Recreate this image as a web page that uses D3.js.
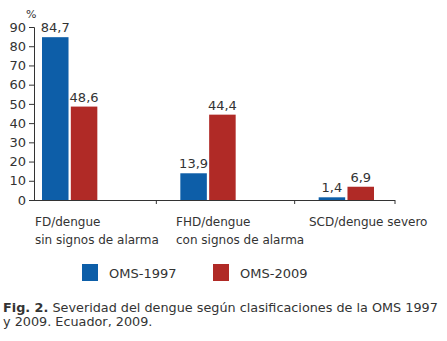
<!DOCTYPE html>
<html>
<head>
<meta charset="utf-8">
<script src="https://cdn.jsdelivr.net/npm/d3@7"></script>
<style>
  body { margin: 0; background: #fff; }
  svg { display: block; font-family: "DejaVu Sans", Verdana, sans-serif; }
  text { fill: #333; }
</style>
</head>
<body>
<div id="chart"></div>
<script>
const width = 447, height = 341;

// data
const categories = ["FD", "FHD", "SCD"];
const categoryLines = [
  ["FD/dengue", "sin signos de alarma"],
  ["FHD/dengue", "con signos de alarma"],
  ["SCD/dengue severo"]
];
const seriesNames = ["OMS-1997", "OMS-2009"];
const oms1997 = [84.7, 13.9, 1.4];
const oms2009 = [48.6, 44.4, 6.9];
const yTicks = [0, 10, 20, 30, 40, 50, 60, 70, 80, 90];
const colors = ["#0d5ea8", "#b02a26"];

const fmt = v => d3.format(".1f")(v).replace(".", ",");

const svg = d3.select("#chart").append("svg")
  .attr("width", width)
  .attr("height", height);

const axisLeft = 34, axisRight = 395, y0 = 200, y90 = 27;

const y = d3.scaleLinear().domain([0, 90]).range([y0, y90]);

const x = d3.scaleBand()
  .domain(categories)
  .range([42, 374])
  .paddingInner(0.6)
  .paddingOuter(0);

const xs = d3.scaleBand()
  .domain(seriesNames)
  .range([0, x.bandwidth()])
  .paddingInner(0.08);

const rows = categories.map((c, i) => ({ cat: c, values: [oms1997[i], oms2009[i]] }));

// y axis
const yAxis = svg.append("g")
  .attr("transform", `translate(${axisLeft},0)`)
  .call(d3.axisLeft(y).tickValues(yTicks).tickSize(5).tickPadding(3));
yAxis.select(".domain").attr("stroke", "#333");
yAxis.selectAll(".tick line").attr("stroke", "#333");
yAxis.selectAll(".tick text")
  .style("font-size", "13px")
  .style("font-family", "'DejaVu Sans', Verdana, sans-serif")
  .attr("fill", "#333");

svg.append("text")
  .attr("x", 26)
  .attr("y", 18)
  .style("font-size", "11px")
  .text("%");

// bars
const groups = svg.selectAll("g.grp")
  .data(rows)
  .join("g")
  .attr("class", "grp")
  .attr("transform", d => `translate(${x(d.cat)},0)`);

groups.selectAll("rect")
  .data(d => d.values.map((v, j) => ({ v, s: seriesNames[j], j })))
  .join("rect")
  .attr("x", d => xs(d.s))
  .attr("width", xs.bandwidth())
  .attr("y", d => y(d.v))
  .attr("height", d => y0 - y(d.v))
  .attr("fill", d => colors[d.j]);

groups.selectAll("text.val")
  .data(d => d.values.map((v, j) => ({ v, s: seriesNames[j], j })))
  .join("text")
  .attr("class", "val")
  .attr("x", d => xs(d.s) + xs.bandwidth() / 2)
  .attr("y", d => y(d.v) - 5)
  .attr("text-anchor", "middle")
  .style("font-size", "13px")
  .text(d => fmt(d.v));

// x axis line with boundary ticks
svg.append("line")
  .attr("x1", axisLeft).attr("x2", axisRight)
  .attr("y1", y0 + 0.5).attr("y2", y0 + 0.5)
  .attr("stroke", "#333");

const tickXs = categories.map((c, i) =>
  i < categories.length - 1 ? x(c) + x.bandwidth() + 59 : axisRight);
svg.selectAll("line.xt")
  .data(tickXs)
  .join("line")
  .attr("class", "xt")
  .attr("x1", d => d).attr("x2", d => d)
  .attr("y1", y0).attr("y2", y0 + 4)
  .attr("stroke", "#333");

// category labels
const labelX = [35, 176, 309];
categories.forEach((c, i) => {
  const t = svg.append("text")
    .attr("x", labelX[i])
    .attr("y", 226)
    .style("font-size", "12px");
  categoryLines[i].forEach((line, k) => {
    t.append("tspan")
      .attr("x", labelX[i])
      .attr("dy", k === 0 ? 0 : 18)
      .text(line);
  });
});

// legend
const legendX = [82, 213];
const legend = svg.selectAll("g.leg")
  .data(seriesNames)
  .join("g")
  .attr("class", "leg")
  .attr("transform", (d, i) => `translate(${legendX[i]},264)`);
legend.append("rect")
  .attr("width", 16).attr("height", 17)
  .attr("fill", (d, i) => colors[i]);
legend.append("text")
  .attr("x", 27).attr("y", 14)
  .style("font-size", "13px")
  .text(d => d);

// caption
const cap = svg.append("text")
  .attr("x", 3).attr("y", 312)
  .style("font-size", "12.8px");
cap.append("tspan").style("font-weight", "bold").text("Fig. 2.");
cap.append("tspan").text(" Severidad del dengue según clasificaciones de la OMS 1997");
svg.append("text")
  .attr("x", 3).attr("y", 326)
  .style("font-size", "12.8px")
  .text("y 2009. Ecuador, 2009.");
</script>
</body>
</html>
